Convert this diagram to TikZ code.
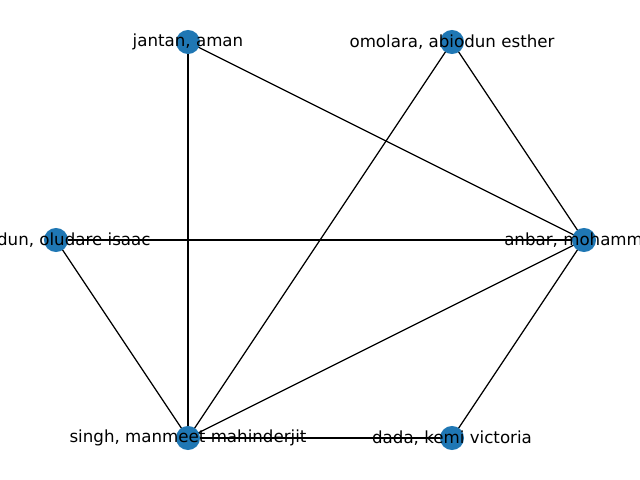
\documentclass[tikz,border=0pt]{standalone}
\usepackage{fontspec}
\setmainfont{DejaVu Sans}
\begin{document}
\begin{tikzpicture}[x=0.72pt,y=-0.72pt,
  vtx/.style={circle,fill={rgb,255:red,31;green,119;blue,180},inner sep=0pt,minimum size=17.32pt},
  lbl/.style={font=\fontsize{12pt}{14pt}\selectfont,inner sep=0pt,text=black},
  edge/.style={draw=black,line width=0.9pt}]
\useasboundingbox (0,0) rectangle (640,480);
\clip (0,0) rectangle (640,480);
\coordinate (ja) at (188,42);
\coordinate (om) at (452,42);
\coordinate (ab) at (56,240);
\coordinate (an) at (584,240);
\coordinate (si) at (188,438);
\coordinate (da) at (452,438);
\draw[edge] (ja) -- (an);
\draw[edge] (ja) -- (si);
\draw[edge] (om) -- (an);
\draw[edge] (om) -- (si);
\draw[edge] (ab) -- (an);
\draw[edge] (ab) -- (si);
\draw[edge] (an) -- (si);
\draw[edge] (an) -- (da);
\draw[edge] (si) -- (da);
\node[vtx] (vja) at (ja) {};
\node[vtx] (vom) at (om) {};
\node[vtx] (vab) at (ab) {};
\node[vtx] (van) at (an) {};
\node[vtx] (vsi) at (si) {};
\node[vtx] (vda) at (da) {};
\node[lbl] (tja) at (ja) {jantan, aman};
\node[lbl] (tom) at (om) {omolara, abiodun esther};
\node[lbl] (tab) at (ab) {abiodun, oludare isaac};
\node[lbl] (tan) at (an) {anbar, mohammad};
\node[lbl] (tsi) at (si) {singh, manmeet mahinderjit};
\node[lbl] (tda) at (da) {dada, kemi victoria};
\end{tikzpicture}
\end{document}
